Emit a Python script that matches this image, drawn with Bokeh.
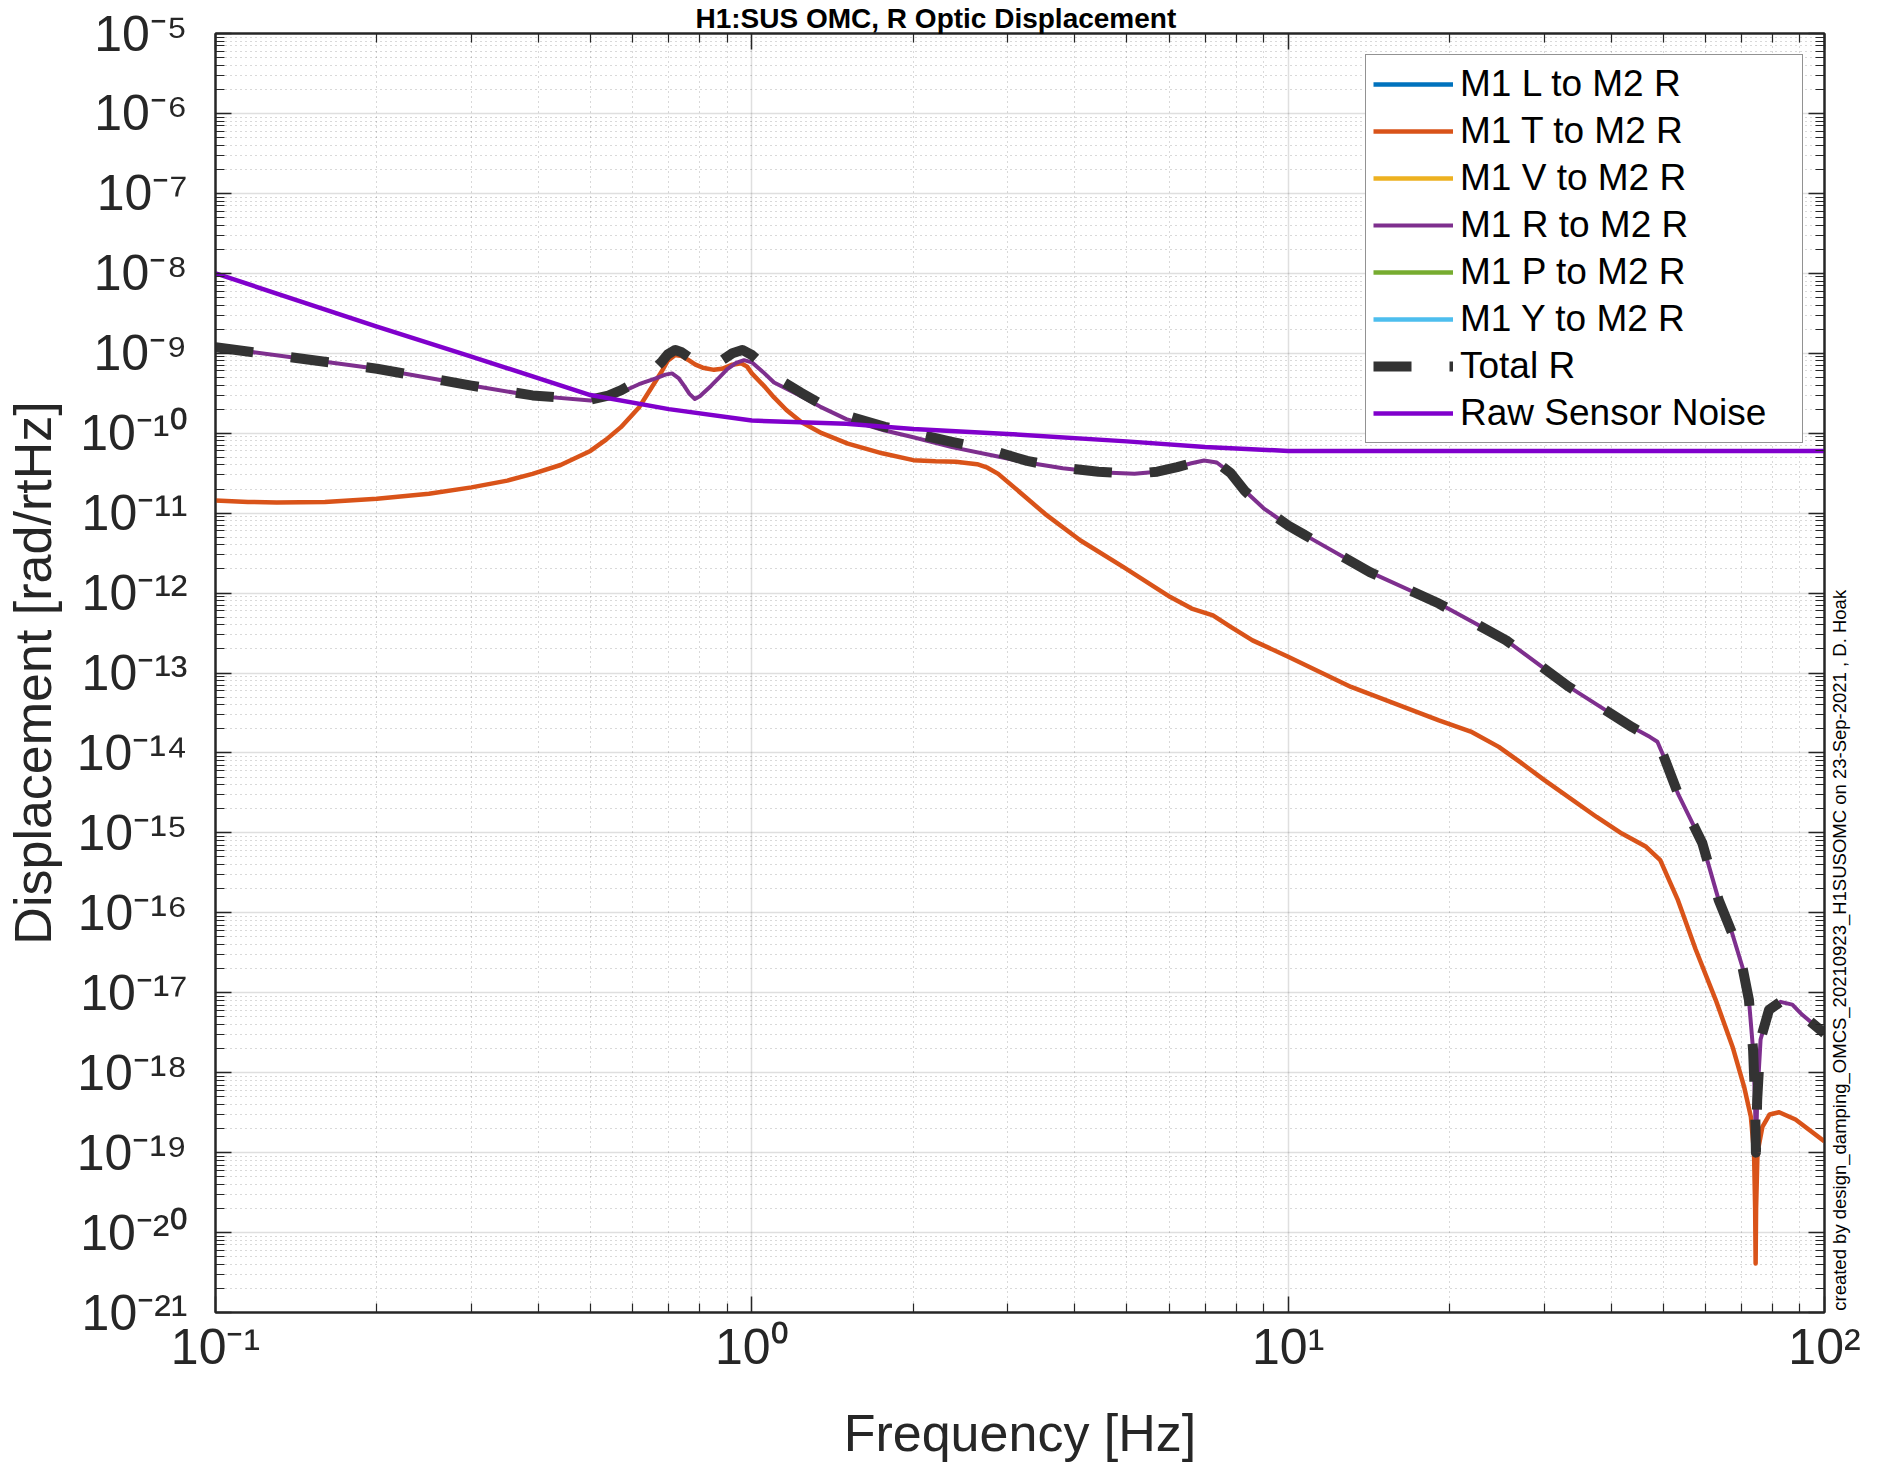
import math
from bokeh.plotting import figure
from bokeh.layouts import row
from bokeh.models import Range1d, FixedTicker, LogAxis
from bokeh.core.properties import value
from bokeh.embed import file_html
from bokeh.resources import INLINE

# ---------------- data ----------------
# Raw Sensor Noise
f_raw = [0.1, 0.2, 0.3, 0.5, 0.7, 1.0, 1.5, 2.0, 3.0, 5.0, 7.0, 10.0, 100.0]
v_raw = [1.0e-8, 2.15e-9, 9.1e-10, 3.0e-10, 2.0e-10, 1.44e-10, 1.31e-10, 1.13e-10,
         9.8e-11, 7.9e-11, 6.7e-11, 6.0e-11, 6.0e-11]

# M1 T to M2 R
f_T = [0.1, 0.115, 0.13, 0.16, 0.2, 0.25, 0.3, 0.35, 0.39, 0.44, 0.5, 0.535, 0.57, 0.616,
       0.656, 0.68, 0.697, 0.72, 0.74, 0.76, 0.785, 0.81, 0.85, 0.88, 0.92, 0.955, 0.98,
       1.0, 1.05, 1.1, 1.16, 1.236, 1.35, 1.51, 1.75, 2.0, 2.2, 2.4, 2.63, 2.75, 2.88,
       3.2, 3.52, 4.1, 4.94, 6.03, 6.61, 7.24, 7.8, 8.58, 10.0, 13.1, 19.1, 21.9, 24.7,
       27.2, 30.0, 37.6, 41.9, 46.5, 49.4, 53.3, 57.5, 62.7, 67.4, 70.8, 72.9, 73.9,
       74.25, 74.4, 74.55, 75.0, 76.6, 79.0, 82.3, 88.3, 100.0]
v_T = [1.44e-11, 1.38e-11, 1.36e-11, 1.38e-11, 1.51e-11, 1.75e-11, 2.1e-11, 2.55e-11,
       3.1e-11, 4.0e-11, 6.0e-11, 8.3e-11, 1.19e-10, 2.1e-10, 4.1e-10, 6.0e-10, 8.1e-10,
       9.5e-10, 9.2e-10, 8.3e-10, 7.2e-10, 6.6e-10, 6.2e-10, 6.4e-10, 7.2e-10, 7.5e-10,
       6.8e-10, 5.6e-10, 4.0e-10, 2.8e-10, 1.95e-10, 1.38e-10, 1.0e-10, 7.4e-11, 5.6e-11,
       4.6e-11, 4.45e-11, 4.4e-11, 4.1e-11, 3.7e-11, 3.1e-11, 1.7e-11, 9.8e-12, 4.55e-12,
       2.1e-12, 8.9e-13, 6.4e-13, 5.25e-13, 3.8e-13, 2.56e-13, 1.6e-13, 6.7e-14, 2.56e-14,
       1.85e-14, 1.19e-14, 7.5e-15, 4.6e-15, 1.58e-15, 9.8e-16, 6.7e-16, 4.55e-16,
       1.44e-16, 3.5e-17, 8.1e-18, 2.1e-18, 6.7e-19, 2.8e-19, 1.0e-19, 2.0e-20, 4.1e-21,
       2.0e-20, 1.0e-19, 2.1e-19, 3.0e-19, 3.2e-19, 2.6e-19, 1.38e-19]

# M1 R to M2 R
f_R = [0.1, 0.2, 0.3, 0.39, 0.5, 0.54, 0.571, 0.616, 0.66, 0.69, 0.71, 0.73, 0.748, 0.765,
       0.783, 0.80, 0.839, 0.87, 0.9, 0.935, 0.967, 1.0, 1.05, 1.1, 1.17, 1.236, 1.34, 1.5,
       1.77, 2.0, 2.36, 2.8, 3.26, 3.8, 4.43, 5.17, 5.7, 6.21, 6.6, 6.97, 7.36, 7.8, 8.3,
       9.0, 10.0, 10.65, 14.2, 19.1, 25.5, 33.4, 43.8, 47.3, 48.8, 50.2, 53.3, 59.2, 63.5,
       67.3, 70.3, 72.3, 73.6, 74.2, 74.5, 74.9, 76.0, 78.8, 82.8, 87.1, 90.9, 100.0]
v_R = [1.19e-9, 6.4e-10, 3.94e-10, 2.95e-10, 2.56e-10, 2.8e-10, 3.25e-10, 4.1e-10,
       4.8e-10, 5.4e-10, 5.6e-10, 4.9e-10, 3.9e-10, 3.1e-10, 2.68e-10, 2.9e-10, 3.9e-10,
       5.0e-10, 6.35e-10, 7.6e-10, 8.2e-10, 7.7e-10, 5.8e-10, 4.3e-10, 3.5e-10, 2.9e-10,
       2.15e-10, 1.5e-10, 1.08e-10, 8.9e-11, 6.7e-11, 5.3e-11, 4.3e-11, 3.65e-11,
       3.25e-11, 3.1e-11, 3.3e-11, 3.76e-11, 4.2e-11, 4.55e-11, 4.3e-11, 3.2e-11, 1.9e-11,
       1.15e-11, 7.0e-12, 5.5e-12, 1.83e-12, 7.4e-13, 2.56e-13, 6.7e-14, 2.1e-14,
       1.58e-14, 1.38e-14, 8.9e-15, 3.1e-15, 7.4e-16, 1.44e-16, 5.5e-17, 2.1e-17, 8.1e-18,
       1.92e-18, 4.6e-19, 9.3e-20, 4.6e-19, 2.6e-18, 6.1e-18, 7.7e-18, 7.1e-18, 5.3e-18,
       3.1e-18]

# Total R
f_tot = [0.1, 0.2, 0.3, 0.39, 0.5, 0.54, 0.571, 0.616, 0.656, 0.68, 0.697, 0.72, 0.74,
         0.765, 0.785, 0.81, 0.85, 0.88, 0.92, 0.96, 1.0, 1.05, 1.1, 1.17, 1.236, 1.34, 1.5,
         1.77, 2.0, 2.36, 2.8, 3.26, 3.8, 4.43, 5.17, 5.7, 6.21, 6.6, 6.97, 7.36, 7.8, 8.3,
         9.0, 10.0, 10.65, 14.2, 19.1, 25.5, 33.4, 43.8, 47.3, 48.8, 50.2, 53.3, 59.2,
         63.5, 67.3, 70.3, 72.3, 73.6, 74.2, 74.5, 74.9, 76.0, 78.8, 82.8, 87.1, 90.9,
         100.0]
v_tot = [1.19e-9, 6.4e-10, 3.94e-10, 2.97e-10, 2.63e-10, 2.95e-10, 3.45e-10, 4.6e-10,
         6.2e-10, 7.9e-10, 9.7e-10, 1.1e-9, 1.03e-9, 8.8e-10, 7.7e-10, 7.2e-10, 7.3e-10,
         8.2e-10, 1.0e-9, 1.1e-9, 9.5e-10, 7.1e-10, 5.1e-10, 4.0e-10, 3.2e-10, 2.35e-10,
         1.66e-10, 1.2e-10, 1.0e-10, 7.8e-11, 6.1e-11, 4.5e-11, 3.7e-11, 3.3e-11, 3.1e-11,
         3.3e-11, 3.76e-11, 4.2e-11, 4.55e-11, 4.3e-11, 3.2e-11, 1.9e-11, 1.15e-11,
         7.0e-12, 5.5e-12, 1.83e-12, 7.4e-13, 2.56e-13, 6.7e-14, 2.1e-14, 1.58e-14,
         1.38e-14, 8.9e-15, 3.1e-15, 7.4e-16, 1.44e-16, 5.5e-17, 2.1e-17, 8.1e-18,
         1.92e-18, 4.6e-19, 1.0e-19, 4.6e-19, 2.6e-18, 6.1e-18, 7.7e-18, 7.1e-18, 5.3e-18,
         3.1e-18]

# Channels with no visible trace in the plotted range (legend entries only)
NAN = float("nan")
f_L, v_L = [NAN], [NAN]
f_V, v_V = [NAN], [NAN]
f_P, v_P = [NAN], [NAN]
f_Y, v_Y = [NAN], [NAN]

series_names = ["M1 L to M2 R", "M1 T to M2 R", "M1 V to M2 R", "M1 R to M2 R",
                "M1 P to M2 R", "M1 Y to M2 R", "Total R", "Raw Sensor Noise"]

x_major = [0.1, 1.0, 10.0, 100.0]
x_labels = ["10\u207b\u00b9", "10\u2070", "10\u00b9", "10\u00b2"]
y_major = [1e-21, 1e-20, 1e-19, 1e-18, 1e-17, 1e-16, 1e-15, 1e-14, 1e-13, 1e-12,
           1e-11, 1e-10, 1e-9, 1e-8, 1e-7, 1e-6, 1e-5]
y_labels = ["10\u207b\u00b2\u00b9", "10\u207b\u00b2\u2070", "10\u207b\u00b9\u2079",
            "10\u207b\u00b9\u2078", "10\u207b\u00b9\u2077", "10\u207b\u00b9\u2076",
            "10\u207b\u00b9\u2075", "10\u207b\u00b9\u2074", "10\u207b\u00b9\u00b3",
            "10\u207b\u00b9\u00b2", "10\u207b\u00b9\u00b9", "10\u207b\u00b9\u2070",
            "10\u207b\u2079", "10\u207b\u2078", "10\u207b\u2077", "10\u207b\u2076",
            "10\u207b\u2075"]

title_text = "H1:SUS OMC, R Optic Displacement"
x_title = "Frequency [Hz]"
y_title = "Displacement [rad/rtHz]"
note_text = "created by design_damping_OMCS_20210923_H1SUSOMC on 23-Sep-2021 , D. Hoak"

# ---------------- main figure ----------------
FONT = "Liberation Sans"
AX = "#262626"

p = figure(width=1881, height=1465, x_axis_type="log", y_axis_type="log",
           x_range=Range1d(0.1, 100), y_range=Range1d(1e-21, 1e-5),
           output_backend="svg", toolbar_location=None,
           min_border_left=215, min_border_right=57, min_border_top=33,
           min_border_bottom=153, background_fill_color="white",
           border_fill_color="white")

x_minor = [k * m for m in x_major[:-1] for k in range(2, 10)]
y_minor = [k * m for m in y_major[:-1] for k in range(2, 10)]
xt = FixedTicker(ticks=x_major, minor_ticks=x_minor)
yt = FixedTicker(ticks=y_major, minor_ticks=y_minor)


def style_axis(ax, labels=True):
    ax.axis_line_color = AX
    ax.axis_line_width = 2
    ax.major_tick_line_color = AX
    ax.minor_tick_line_color = AX
    ax.major_tick_line_width = 1.5
    ax.minor_tick_line_width = 1.2
    ax.major_tick_in = 16
    ax.major_tick_out = 0
    ax.minor_tick_in = 9
    ax.minor_tick_out = 0
    ax.major_label_text_font = FONT
    if labels:
        ax.major_label_text_font_size = "50px"
        ax.major_label_text_color = AX
    else:
        ax.major_label_text_font_size = "1px"
        ax.major_label_text_color = None
        ax.major_label_standoff = 0


xax = p.below[0]
yax = p.left[0]
xax.ticker = xt
yax.ticker = yt
style_axis(xax)
style_axis(yax)
xax.major_label_overrides = dict(zip(x_major, x_labels))
yax.major_label_overrides = dict(zip(y_major, y_labels))
xax.major_label_standoff = 6
yax.major_label_standoff = 28
xax.axis_label = x_title
yax.axis_label = y_title
for ax in (xax, yax):
    ax.axis_label_text_font = FONT
    ax.axis_label_text_font_size = "52px"
    ax.axis_label_text_font_style = "normal"
    ax.axis_label_text_color = AX
xax.axis_label_standoff = 26
yax.axis_label_standoff = 12

top_ax = LogAxis(ticker=xt)
right_ax = LogAxis(ticker=yt)
style_axis(top_ax, labels=False)
style_axis(right_ax, labels=False)
p.add_layout(top_ax, "above")
p.add_layout(right_ax, "right")

for g, t in ((p.xgrid[0], xt), (p.ygrid[0], yt)):
    g.ticker = t
    g.grid_line_color = AX
    g.grid_line_alpha = 0.15
    g.grid_line_width = 1.5
    g.minor_grid_line_color = AX
    g.minor_grid_line_alpha = 0.35
    g.minor_grid_line_width = 1
    g.minor_grid_line_dash = "1 4"

p.outline_line_color = AX
p.outline_line_width = 2

# title (kept fully visible in the top margin)
p.title.text = title_text
p.title.text_font = FONT
p.title.text_font_size = "28px"
p.title.text_font_style = "bold"
p.title.text_color = "black"
p.title.align = "left"
p.title.offset = 480
p.title.standoff = 0

# ---------------- lines ----------------
lw = 4.5
p.line(f_L, v_L, line_color="#0072BD", line_width=lw, legend_label=series_names[0])
p.line(f_T, v_T, line_color="#D95319", line_width=lw, line_join="round",
       legend_label=series_names[1])
p.line(f_V, v_V, line_color="#EDB120", line_width=lw, legend_label=series_names[2])
p.line(f_R, v_R, line_color="#7E2F8E", line_width=4, line_join="round",
       legend_label=series_names[3])
p.line(f_P, v_P, line_color="#77AC30", line_width=lw, legend_label=series_names[4])
p.line(f_Y, v_Y, line_color="#4DBEEE", line_width=lw, legend_label=series_names[5])
p.line(f_tot, v_tot, line_color="#333333", line_width=10, line_dash="38 38",
       line_join="round", legend_label=series_names[6])
p.line(f_raw, v_raw, line_color="#8000CC", line_width=lw, line_join="round",
       legend_label=series_names[7])

lg = p.legend[0]
lg.location = "top_right"
lg.label_text_font = FONT
lg.label_text_font_size = "37px"
lg.label_text_color = "black"
lg.label_height = 44
lg.label_width = 335
lg.glyph_height = 44
lg.glyph_width = 80
lg.label_standoff = 7
lg.spacing = 3
lg.padding = 7
lg.margin = 21
lg.border_line_color = AX
lg.border_line_width = 1.5
lg.background_fill_color = "white"
lg.background_fill_alpha = 1.0

# ---------------- transparent strip over the right margin with the creation note ----
note_x = [15]
note_y = [2]
p2 = figure(width=57, height=1465, x_range=Range1d(0, 57), y_range=Range1d(0, 1465),
            output_backend="svg", toolbar_location=None, min_border=0,
            x_axis_location=None, y_axis_location=None,
            background_fill_color=None, border_fill_color=None,
            margin=(0, 0, 0, -57))
p2.outline_line_color = None
p2.xgrid.visible = False
p2.ygrid.visible = False
p2.text(x=note_x, y=note_y, text=[note_text], angle=math.pi / 2,
        text_font=value(FONT), text_font_size="18.5px", text_align="left",
        text_baseline="middle", text_color="black")

layout = row(p, p2, spacing=0)
open("out.html", "w").write(file_html(layout, INLINE))
